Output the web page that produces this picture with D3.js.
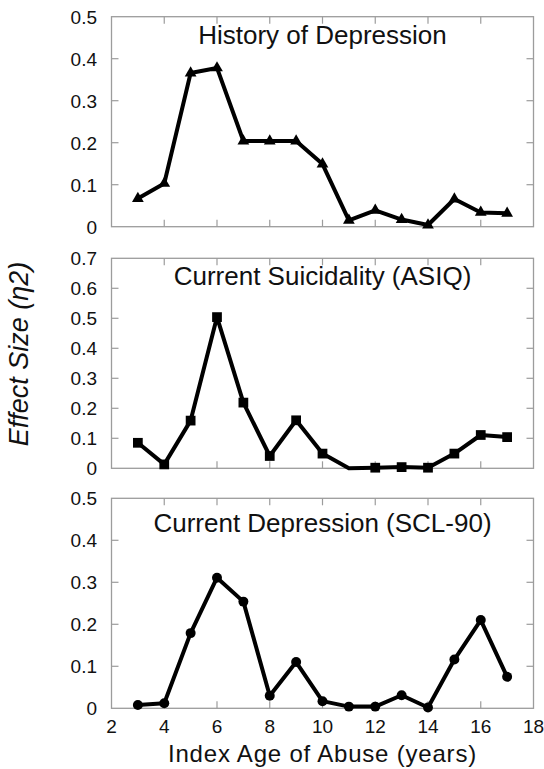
<!DOCTYPE html>
<html>
<head>
<meta charset="utf-8">
<script src="https://cdn.jsdelivr.net/npm/d3@7/dist/d3.min.js"></script>
<style>
  html, body { margin: 0; padding: 0; background: #fff; }
  svg { display: block; }
  text { font-family: "Liberation Sans", Arial, Helvetica, sans-serif; fill: #111; }
</style>
</head>
<body>
<svg id="chart" width="544" height="769"></svg>
<script>
// Index age of abuse (years)
const ages = [3, 4, 5, 6, 7, 8, 9, 10, 11, 12, 13, 14, 15, 16, 17];

// Effect sizes (eta squared) by index age
const historyDepression = [0.067, 0.103, 0.366, 0.378, 0.204, 0.204, 0.204, 0.149, 0.015, 0.039, 0.017, 0.004, 0.066, 0.034, 0.032];
const currentSuicidality = [0.085, 0.013, 0.159, 0.504, 0.219, 0.041, 0.160, 0.049, 0.000, 0.002, 0.004, 0.002, 0.049, 0.111, 0.104];
const currentDepression = [0.008, 0.012, 0.179, 0.311, 0.254, 0.030, 0.110, 0.017, 0.004, 0.004, 0.031, 0.002, 0.116, 0.210, 0.075];

// Panel titles and y-axis ticks
const titles = ["History of Depression", "Current Suicidality (ASIQ)", "Current Depression (SCL-90)"];
const yTicksShort = [0, 0.1, 0.2, 0.3, 0.4, 0.5];
const yTicksLong = [0, 0.1, 0.2, 0.3, 0.4, 0.5, 0.6, 0.7];
const xTicks = [2, 4, 6, 8, 10, 12, 14, 16, 18];

// Ages plotted without a marker in the suicidality panel
const suicidalityHiddenMarkers = [11];

const svg = d3.select("#chart");
const left = 111.5, right = 533.5;
const x = d3.scaleLinear().domain([2, 18]).range([left, right]);

const panels = [
  { values: historyDepression, ticks: yTicksShort, symbol: d3.symbolTriangle, size: 60, top: 16.7, bottom: 226.7, titleY: 43.5, hidden: [] },
  { values: currentSuicidality, ticks: yTicksLong, symbol: d3.symbolSquare, size: 95, top: 258.3, bottom: 468.3, titleY: 285, hidden: suicidalityHiddenMarkers },
  { values: currentDepression, ticks: yTicksShort, symbol: d3.symbolCircle, size: 78, top: 498.3, bottom: 708.3, titleY: 532, hidden: [] }
];

const frameColor = "#9c9c9c";
const tickLen = 7;
const fmt = d => d === 0 ? "0" : d3.format(".1f")(d);

panels.forEach((p, i) => {
  const y = d3.scaleLinear()
    .domain([0, d3.max(p.ticks)])
    .range([p.bottom, p.top]);
  const g = svg.append("g");

  // frame
  g.append("rect")
    .attr("x", left).attr("y", p.top)
    .attr("width", right - left).attr("height", p.bottom - p.top)
    .attr("fill", "none").attr("stroke", frameColor).attr("stroke-width", 1.3);

  // inward ticks: left & right
  const innerY = p.ticks.filter(t => t > 0 && t < d3.max(p.ticks));
  innerY.forEach(t => {
    g.append("line").attr("x1", left).attr("x2", left + tickLen)
      .attr("y1", y(t)).attr("y2", y(t)).attr("stroke", frameColor).attr("stroke-width", 1.2);
    g.append("line").attr("x1", right).attr("x2", right - tickLen)
      .attr("y1", y(t)).attr("y2", y(t)).attr("stroke", frameColor).attr("stroke-width", 1.2);
  });
  // inward ticks: top & bottom
  const innerX = xTicks.filter(t => t > 2 && t < 18);
  innerX.forEach(t => {
    g.append("line").attr("x1", x(t)).attr("x2", x(t))
      .attr("y1", p.top).attr("y2", p.top + tickLen).attr("stroke", frameColor).attr("stroke-width", 1.2);
    g.append("line").attr("x1", x(t)).attr("x2", x(t))
      .attr("y1", p.bottom).attr("y2", p.bottom - tickLen).attr("stroke", frameColor).attr("stroke-width", 1.2);
  });

  // y tick labels
  g.selectAll("text.ytick").data(p.ticks).join("text")
    .attr("class", "ytick")
    .attr("x", 97).attr("y", d => y(d))
    .attr("dy", "0.36em")
    .attr("text-anchor", "end")
    .attr("font-size", 19)
    .text(fmt);

  // panel title
  g.append("text")
    .attr("x", (left + right) / 2).attr("y", p.titleY)
    .attr("text-anchor", "middle")
    .attr("font-size", 26)
    .text(titles[i]);

  // series line
  const pts = ages.map((a, k) => ({ age: a, v: p.values[k] }));
  g.append("path")
    .datum(pts)
    .attr("fill", "none")
    .attr("stroke", "#000")
    .attr("stroke-width", 4)
    .attr("stroke-linejoin", "round")
    .attr("d", d3.line().x(d => x(d.age)).y(d => y(d.v)));

  // markers
  const sym = d3.symbol().type(p.symbol).size(p.size);
  g.selectAll("path.marker")
    .data(pts.filter(d => !p.hidden.includes(d.age)))
    .join("path")
    .attr("class", "marker")
    .attr("transform", d => `translate(${x(d.age)},${y(d.v)})`)
    .attr("d", sym)
    .attr("fill", "#000");
});

// x tick labels under the bottom panel
svg.selectAll("text.xtick").data(xTicks).join("text")
  .attr("class", "xtick")
  .attr("x", d => x(d)).attr("y", 733.3)
  .attr("text-anchor", "middle")
  .attr("font-size", 19)
  .text(d => d);

// axis titles
svg.append("text")
  .attr("x", (left + right) / 2).attr("y", 761.7)
  .attr("text-anchor", "middle")
  .attr("font-size", 24)
  .attr("letter-spacing", 0.8)
  .text("Index Age of Abuse (years)");

svg.append("text")
  .attr("transform", "translate(28,354) rotate(-90)")
  .attr("text-anchor", "middle")
  .attr("font-size", 27)
  .attr("font-style", "italic")
  .text("Effect Size (η2)");
</script>
</body>
</html>
